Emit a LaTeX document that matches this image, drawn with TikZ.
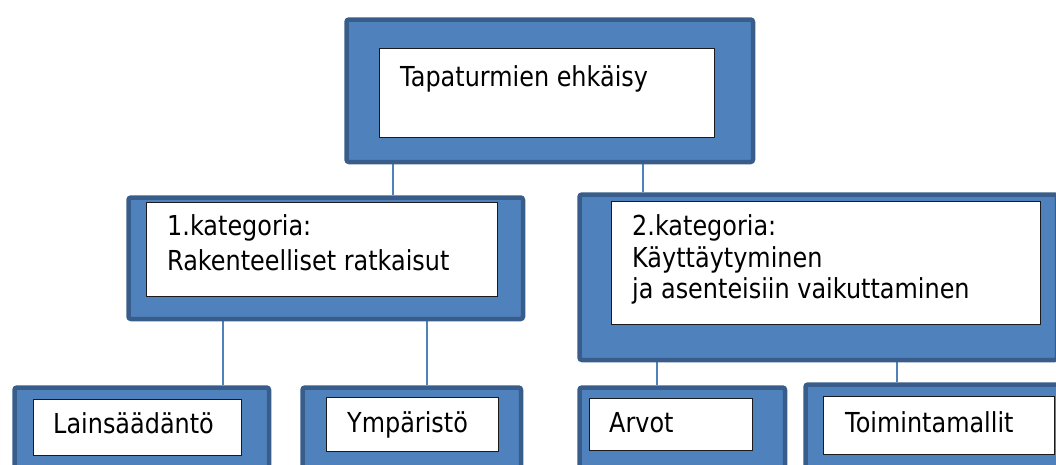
\documentclass[tikz,border=0pt]{standalone}
\usepackage{fontspec}
\setmainfont[FakeStretch=0.87]{DejaVu Sans}
\usetikzlibrary{backgrounds}
\definecolor{boxblue}{HTML}{4F81BD}
\definecolor{boxedge}{HTML}{385D8A}
\definecolor{inneredge}{HTML}{1A1A1A}
\tikzset{
  outerbox/.style={draw=boxedge, fill=boxblue, line width=4.5pt, rounded corners=2.5pt, inner sep=0pt, anchor=north west},
  innerbox/.style={draw=inneredge, fill=white, line width=1.1pt, inner sep=0pt, anchor=north west},
  lbl/.style={anchor=base west, inner sep=0pt, font=\fontsize{27.5}{33}\selectfont, text=black},
  conn/.style={draw=boxblue, line width=1.6pt},
}
\newcommand{\obox}[5]{% name, x1, y1, x2, y2 (outer extents)
  \node[outerbox, minimum width={#4-#2-4.5}, minimum height={#5-#3-4.5}] (#1) at ({#2+2.25},{#3+2.25}) {};}
\newcommand{\ibox}[5]{%
  \node[innerbox, minimum width={#4-#2}, minimum height={#5-#3}] (#1) at (#2,#3) {};}
\begin{document}
\begin{tikzpicture}[x=1pt, y=-1pt]
\useasboundingbox (0,0) rectangle (1056,464);
\clip (0,0) rectangle (1056,464);
% outer boxes
\obox{top}{342}{15}{753}{162}
\obox{catone}{124}{193}{523}{319}
\obox{cattwo}{575}{190}{1057}{360}
\obox{law}{10}{383}{269}{490}
\obox{env}{298}{383}{521}{490}
\obox{val}{575}{383}{785}{490}
\obox{act}{801}{380}{1090}{490}
% inner boxes
\ibox{topin}{379}{48}{714}{137}
\ibox{catonein}{146}{202}{497}{296}
\ibox{cattwoin}{611}{201}{1040}{324}
\ibox{lawin}{33}{399}{241}{455}
\ibox{envin}{326}{397}{498}{451}
\ibox{valin}{589}{398}{752}{450}
\ibox{actin}{823}{396}{1054}{454}
% texts
\node[lbl] (ttop) at (400,86) {Tapaturmien ehkäisy};
\node[lbl] (tc1a) at (167,235) {1.kategoria:};
\node[lbl] (tc1b) at (167,270) {Rakenteelliset ratkaisut};
\node[lbl] (tc2a) at (632,235) {2.kategoria:};
\node[lbl] (tc2b) at (632,267) {Käyttäytyminen};
\node[lbl] (tc2c) at (632,298) {ja asenteisiin vaikuttaminen};
\node[lbl] (tlaw) at (53,433) {Lainsäädäntö};
\node[lbl] (tenv) at (347,432) {Ympäristö};
\node[lbl] (tval) at (609,432) {Arvot};
\node[lbl] (tact) at (845,432) {Toimintamallit};
% connectors
\begin{scope}[on background layer]
\draw[conn] (393,0 |- top.south) -- (393,0 |- catone.north);
\draw[conn] (643,0 |- top.south) -- (643,0 |- cattwo.north);
\draw[conn] (223,0 |- catone.south) -- (223,0 |- law.north);
\draw[conn] (427,0 |- catone.south) -- (427,0 |- env.north);
\draw[conn] (657,0 |- cattwo.south) -- (657,0 |- val.north);
\draw[conn] (897,0 |- cattwo.south) -- (897,0 |- act.north);
\end{scope}
\end{tikzpicture}
\end{document}
